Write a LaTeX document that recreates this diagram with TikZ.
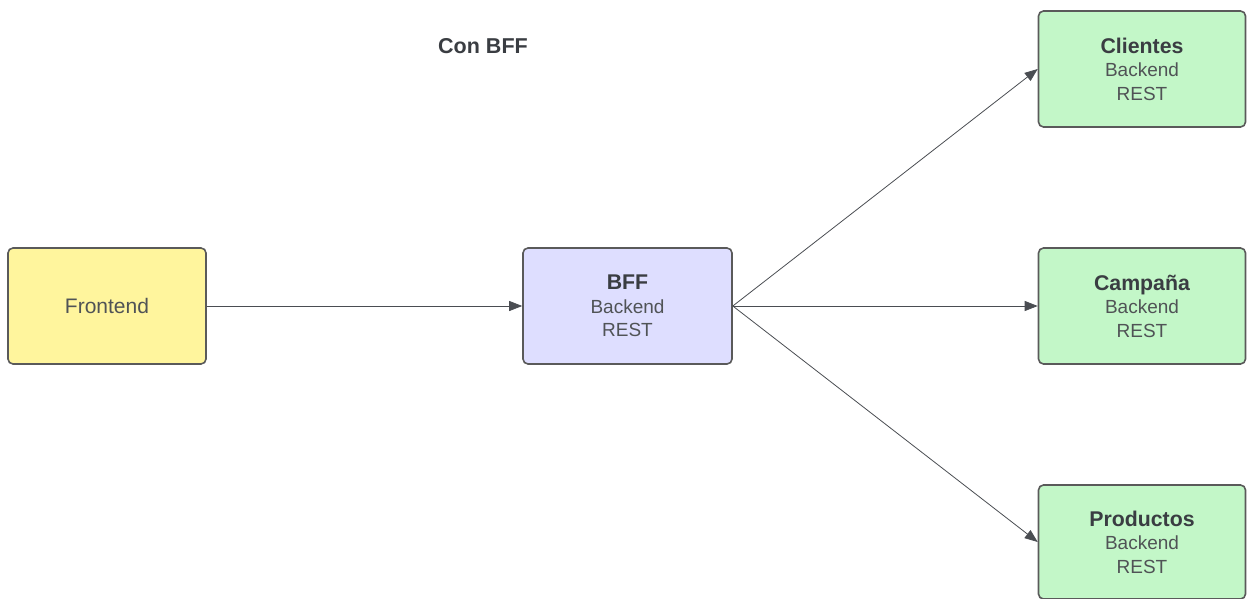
\documentclass[tikz,border=0pt]{standalone}
\usepackage{fontspec}
\setmainfont{Liberation Sans}
\usetikzlibrary{arrows.meta}
\definecolor{boxline}{HTML}{5A5A5A}
\definecolor{txtdark}{HTML}{3A3D42}
\definecolor{txtreg}{HTML}{505356}
\definecolor{fillyellow}{HTML}{FFF59D}
\definecolor{fillblue}{HTML}{DEDEFF}
\definecolor{fillgreen}{HTML}{C3F7C8}
\definecolor{arrowc}{HTML}{4A4D52}
\tikzset{
  box/.style={draw=boxline, line width=1.6pt, rounded corners=5pt, minimum width=207pt, minimum height=115pt, inner sep=0pt, align=center, text=txtreg, font=\fontsize{19}{23.5}\selectfont},
  conn/.style={draw=arrowc, line width=0.8pt, -{Triangle[length=13pt,width=10pt]}},
}
\newcommand{\ttl}[1]{{\fontsize{21.3}{23.5}\selectfont\bfseries\color{txtdark}#1}}
\begin{document}
\begin{tikzpicture}[x=1pt,y=-1pt]
\useasboundingbox (0,0) rectangle (1247,599);
\node[font=\fontsize{21.5}{24}\selectfont\bfseries, text=txtdark] (title) at (483,46) {Con BFF};
\node[box, fill=fillyellow, minimum width=198pt, minimum height=116pt, font=\fontsize{21}{24}\selectfont] (fe) at (107,306) {Frontend};
\node[box, fill=fillblue, minimum width=209pt, minimum height=116pt] (bff) at (627.5,306) {\ttl{BFF}\\Backend\\REST};
\node[box, fill=fillgreen, minimum width=207pt, minimum height=116pt] (cli) at (1142,69) {\ttl{Clientes}\\Backend\\REST};
\node[box, fill=fillgreen, minimum width=207pt, minimum height=116pt] (cam) at (1142,306) {\ttl{Campaña}\\Backend\\REST};
\node[box, fill=fillgreen, minimum width=207pt, minimum height=114pt] (pro) at (1142,542) {\ttl{Productos}\\Backend\\REST};
\draw[conn] (fe.east) -- (bff.west);
\draw[conn] (bff.east) -- (cli.west);
\draw[conn] (bff.east) -- (cam.west);
\draw[conn] (bff.east) -- (pro.west);
\end{tikzpicture}
\end{document}
